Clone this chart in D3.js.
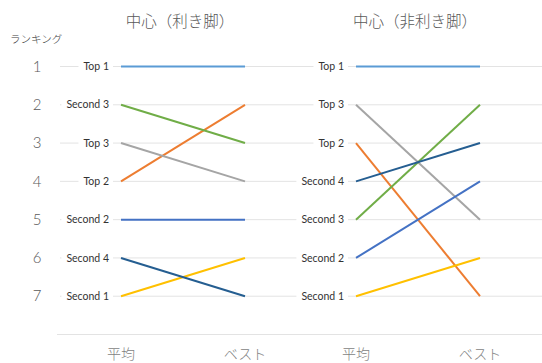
<!DOCTYPE html>
<html>
<head>
<meta charset="utf-8">
<script src="https://cdn.jsdelivr.net/npm/d3@7"></script>
<style>
  html, body { margin: 0; padding: 0; background: #fff; }
  svg { display: block; }
</style>
</head>
<body>
<svg id="chart" width="542" height="363"></svg>
<script>
// Rankings (1 = best) for each player, average vs. best result
const players = ["Top 1", "Top 2", "Top 3", "Second 1", "Second 2", "Second 3", "Second 4"];
const colors = ["#5B9BD5", "#ED7D31", "#A5A5A5", "#FFC000", "#4472C4", "#70AD47", "#255E91"];

const panelTitles = ["中心（利き脚）", "中心（非利き脚）"];
const stages = ["平均", "ベスト"];

// dominant foot
const domAvg  = [1, 4, 3, 7, 5, 2, 6];
const domBest = [1, 2, 4, 6, 5, 3, 7];
// non-dominant foot
const nonAvg  = [1, 3, 2, 7, 6, 5, 4];
const nonBest = [1, 7, 5, 6, 4, 2, 3];

const rankTicks = [1, 2, 3, 4, 5, 6, 7];
const gridRanks = [1, 2, 3, 4, 5, 6, 7, 8];
const yAxisTitle = "ランキング";

const panels = [
  { title: panelTitles[0], avg: domAvg, best: domBest },
  { title: panelTitles[1], avg: nonAvg, best: nonBest }
];

const svg = d3.select("#chart");
const jp = "'Noto Sans CJK JP', 'Noto Sans', sans-serif";
const lat = "Lato, 'Open Sans', sans-serif";

const y = d3.scaleLinear().domain([1, 8]).range([66.5, 334.5]);
// stage positions for each panel
const xPanels = [
  d3.scalePoint().domain(stages).range([121, 245]),
  d3.scalePoint().domain(stages).range([356, 480])
];

// gridlines
svg.append("g").selectAll("line")
  .data(gridRanks)
  .join("line")
  .attr("x1", d => d === 8 ? 57 : 60)
  .attr("x2", 542)
  .attr("y1", d => y(d))
  .attr("y2", d => y(d))
  .attr("stroke", "#E3E3E3")
  .attr("stroke-width", 1);

// rank axis labels
svg.append("g").selectAll("text")
  .data(rankTicks)
  .join("text")
  .attr("x", 37)
  .attr("y", d => y(d))
  .attr("dy", "0.35em")
  .attr("text-anchor", "middle")
  .attr("font-family", lat)
  .attr("font-size", 15)
  .attr("font-weight", 300)
  .attr("fill", "#595959")
  .text(d => d);

svg.append("text")
  .attr("x", 10)
  .attr("y", 43)
  .attr("font-family", jp)
  .attr("font-size", 10.5)
  .attr("font-weight", 300)
  .attr("fill", "#404040")
  .text(yAxisTitle);

panels.forEach((panel, p) => {
  const g = svg.append("g");
  const xs = xPanels[p];
  const x0 = xs(stages[0]), x1 = xs(stages[1]);

  // title
  g.append("text")
    .attr("x", (x0 + x1) / 2 - 3)
    .attr("y", 27)
    .attr("text-anchor", "middle")
    .attr("font-family", jp)
    .attr("font-size", 15.5)
    .attr("font-weight", 300)
    .attr("fill", "#595959")
    .text(panel.title);

  // stage labels
  stages.forEach(s => {
    g.append("text")
      .attr("x", xs(s))
      .attr("y", 359)
      .attr("text-anchor", "middle")
      .attr("font-family", jp)
      .attr("font-size", 14)
      .attr("font-weight", 300)
      .attr("fill", "#7F7F7F")
      .text(s);
  });

  // player labels with white boxes at the average position
  const labels = g.append("g").selectAll("g")
    .data(players.map((name, i) => ({ name, rank: panel.avg[i] })))
    .join("g");
  labels.append("text")
    .attr("x", x0 - 12)
    .attr("y", d => y(d.rank))
    .attr("dy", "0.35em")
    .attr("text-anchor", "end")
    .attr("font-family", lat)
    .attr("font-size", 10.5)
    .attr("fill", "#333333")
    .text(d => d.name);
  labels.each(function () {
    const t = d3.select(this).select("text");
    const bb = t.node().getBBox();
    d3.select(this).insert("rect", "text")
      .attr("x", bb.x - 5)
      .attr("y", bb.y - 1)
      .attr("width", bb.width + 9)
      .attr("height", bb.height + 2)
      .attr("fill", "#fff");
  });

  // slope lines
  g.append("g").selectAll("line")
    .data(players.map((name, i) => ({ name, a: panel.avg[i], b: panel.best[i], c: colors[i] })))
    .join("line")
    .attr("x1", x0)
    .attr("x2", x1)
    .attr("y1", d => y(d.a))
    .attr("y2", d => y(d.b))
    .attr("stroke", d => d.c)
    .attr("stroke-width", 2);
});
</script>
</body>
</html>
